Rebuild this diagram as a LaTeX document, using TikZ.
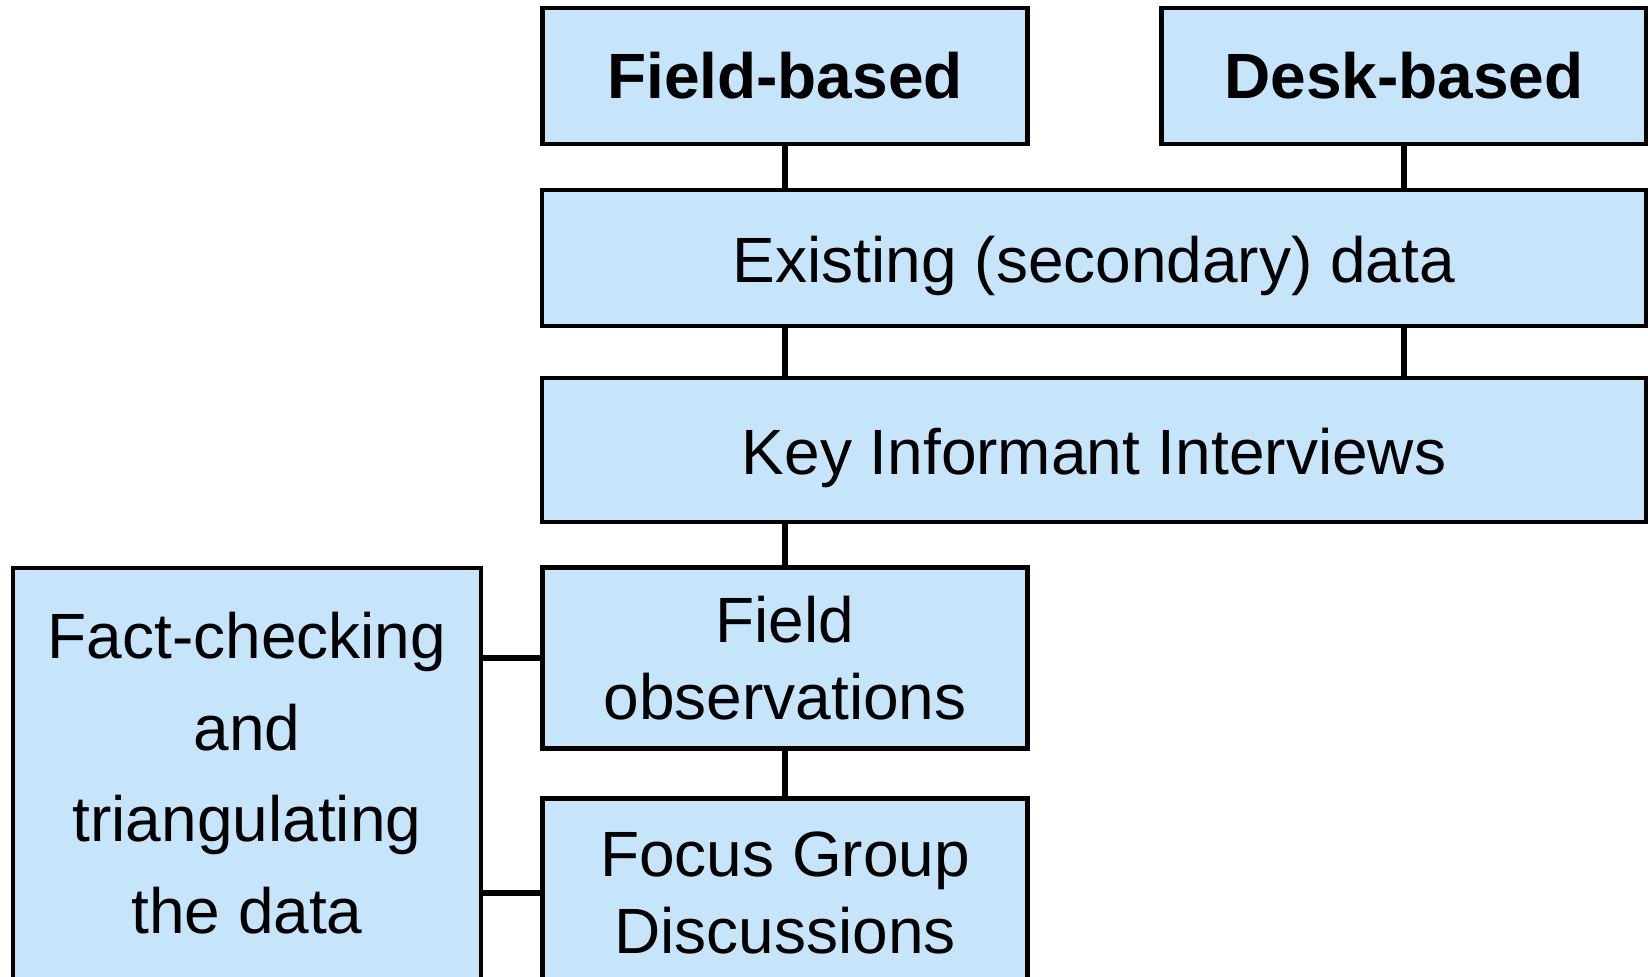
\documentclass[tikz,border=0pt]{standalone}
\usepackage{fontspec}
\setmainfont{Liberation Sans}
\definecolor{boxblue}{RGB}{198,228,250}

\begin{document}
\begin{tikzpicture}[
    base/.style = {rectangle, draw=black, line width=2.1pt, fill=boxblue,
text centered, inner sep=2pt, font=\fontsize{32}{38.4}\selectfont},
head/.style = {base, minimum width=242.5pt, minimum height=68pt,
font=\fontsize{32}{38.4}\selectfont\bfseries},
wide/.style = {base, minimum width=552pt, minimum height=68pt,
text height=31pt, text depth=7pt},
stage/.style = {base, minimum width=242.5pt, align=center},
node distance=96pt,
link/.style={line width=2.6pt}
]
  \useasboundingbox (0,0) rectangle (824pt,-488pt);

  \node (field)    [head] at (392.5pt,-38pt) {Field-based};
  \node (desk)     [head, right of=field, xshift=213.5pt] {Desk-based};
  \node (existing) [wide, below of=field, xshift=154.5pt, yshift=5pt] {Existing (secondary) data};
  \node (kii)      [wide, below of=existing, minimum height=72pt] {Key Informant Interviews};
  \node (fieldobs) [stage, below of=kii, xshift=-154.5pt, yshift=-8pt, minimum height=90.5pt] {Field\\observations};
  \node (focus)    [stage, below of=fieldobs, yshift=-21.5pt, minimum height=94.5pt] {Focus Group\\Discussions};
  \node (fact)     [base, left of=fieldobs, xshift=-173pt, yshift=-60pt, minimum width=234pt,
                    minimum height=210pt, text depth=5.2pt, align=center, font=\fontsize{32}{45.7}\selectfont]
                   {Fact-checking\\and\\triangulating\\the data};

  \draw[link]   (field.south) -- (field.south |- existing.north);
  \draw[link]   (desk.south) -- (desk.south |- existing.north);
  \draw[link]   (field.south |- existing.south) -- (field.south |- kii.north);
  \draw[link]   (desk.south |- existing.south) -- (desk.south |- kii.north);
  \draw[link]   (fieldobs.north |- kii.south) -- (fieldobs.north);
  \draw[link]   (fieldobs.south) -- (focus.north);

  \draw[link]   (fact.east |- fieldobs) -- (fieldobs.west);
  \draw[link]   (fact.east |- focus) -- (focus.west);

\end{tikzpicture}
\end{document}
